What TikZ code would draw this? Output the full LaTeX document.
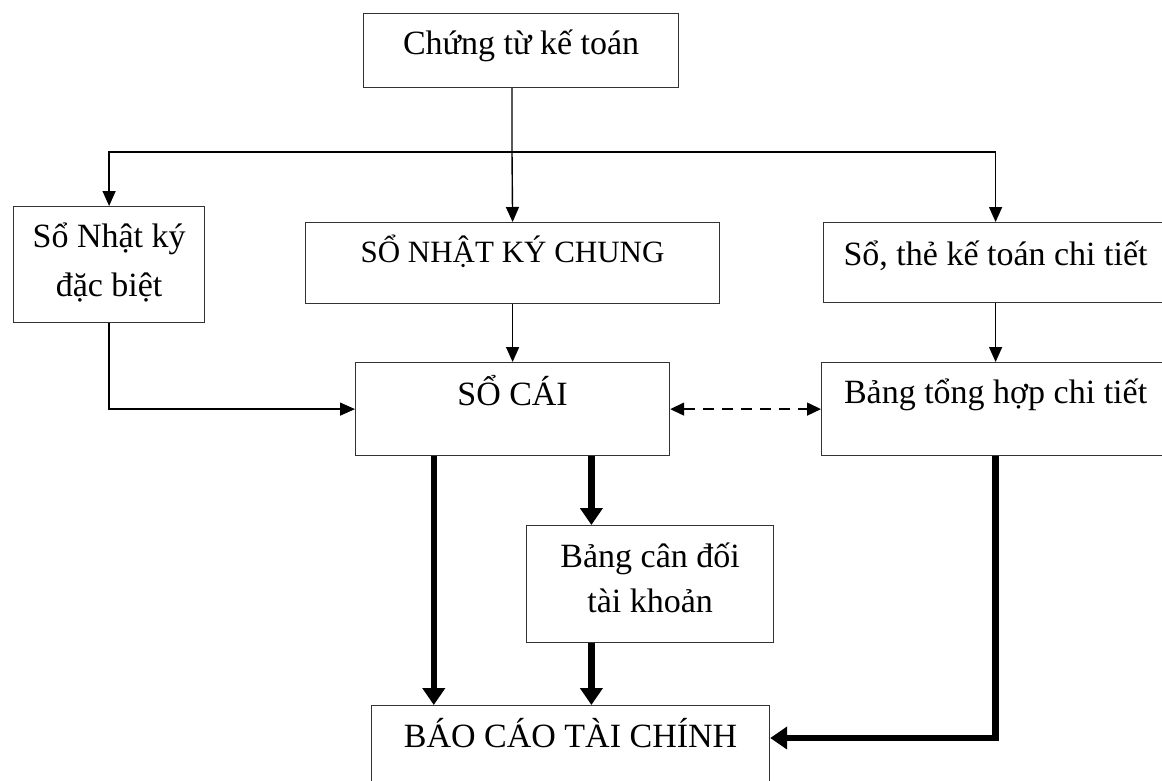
\documentclass[tikz,border=0pt]{standalone}
\usepackage{fontspec}
\setmainfont{Liberation Serif}
\usetikzlibrary{arrows.meta,calc}

\tikzset{
    blk/.style={draw=black!80, line width=1.2pt, inner sep=0pt, align=flush center,
        anchor=north west, font=\fontsize{34}{49}\selectfont},
    link/.style={line width=1.4pt, -{Triangle[length=15pt,width=13pt]}},
    duallink/.style={line width=1.4pt, dash pattern=on 11pt off 8pt,
        {Triangle[length=14pt,width=13pt]}-{Triangle[length=14pt,width=13pt]}},
    heavylink/.style={line width=6.5pt, -{Triangle[length=17pt,width=22pt]}}
}

\begin{document}
\begin{tikzpicture}[x=1pt, y=-1pt]
    \useasboundingbox (0, 0) rectangle (1162, 780);
    \clip (0, 0) rectangle (1162, 780);

    \node[blk, text width=315pt, text height=41pt, text depth=33pt] (ct) at (363, 13) {Chứng từ kế toán};
    \node[blk, text width=191pt, text height=41pt, text depth=75pt] (nkdb) at (13, 206) {Sổ Nhật ký\\đặc biệt};
    \node[blk, text width=414pt, text height=40pt, text depth=41pt, font=\fontsize{31}{40}\selectfont] (nkc) at (305, 222) {SỔ NHẬT KÝ CHUNG};
    \node[blk, text width=344pt, text height=43pt, text depth=37pt] (stct) at (823, 222) {Sổ, thẻ kế toán chi tiết};
    \node[blk, text width=314pt, text height=43pt, text depth=50pt] (sc) at (355, 362) {SỔ CÁI};
    \node[blk, text width=348pt, text height=41pt, text depth=52pt] (bth) at (821, 362) {Bảng tổng hợp chi tiết};
    \node[blk, text width=247pt, text height=42pt, text depth=75pt, font=\fontsize{34}{45}\selectfont] (bcd) at (526, 525) {Bảng cân đối\\tài khoản};
    \node[blk, text width=398pt, text height=42pt, text depth=58pt] (bctc) at (371, 705) {BÁO CÁO TÀI CHÍNH};

    \coordinate (hub) at (512, 152);
    \draw[link] (ct.south -| hub) -- (hub) -- (nkc.north);
    \draw[link] (hub) -| (nkdb.north);
    \draw[link] (hub) -| (stct.north);
    \draw[link] (nkdb.south) |- (sc.west);
    \draw[link] (nkc.south) -- (sc.north);
    \draw[link] (stct.south) -- (bth.north);
    \draw[duallink] (sc.east) -- (bth.west);

    \coordinate (sl) at ($(sc.south west)!.25!(sc.south east)$);
    \coordinate (sr) at ($(sc.south west)!.75!(sc.south east)$);
    \draw[heavylink] (sl) -- (sl |- bctc.north);
    \draw[heavylink] (sr) -- (sr |- bcd.north);
    \draw[heavylink] (sr |- bcd.south) -- (sr |- bctc.north);
    \draw[heavylink] (bth.south) |- ($(bctc.north east)+(0, 33)$);
\end{tikzpicture}
\end{document}
